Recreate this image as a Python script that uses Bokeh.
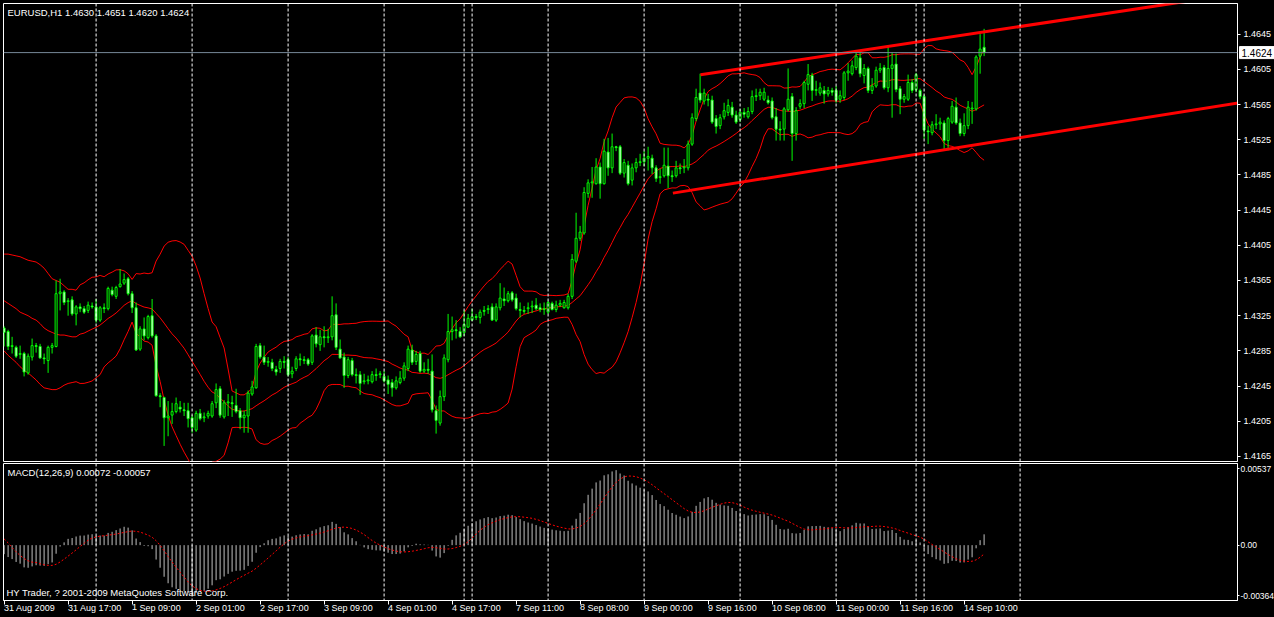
import numpy as np
from bokeh.plotting import figure
from bokeh.models import (Range1d, FixedTicker, Span, Label, ColumnDataSource,
                          PrintfTickFormatter, GlobalInlineStyleSheet)
from bokeh.layouts import column
from bokeh.embed import file_html
from bokeh.resources import INLINE

FONT = "Liberation Sans"
FS = "9px"
FS_TITLE = "9.5px"

# ---------------- data ----------------
symbol_title = "EURUSD,H1  1.4630 1.4651 1.4620 1.4624"
macd_title = "MACD(12,26,9) 0.00072 -0.00057"
copyright_text = "HY Trader, ? 2001-2009 MetaQuotes Software Corp."

open_p = [1.4311,1.4307,1.4290,1.4289,1.4281,1.4282,1.4260,1.4278,1.4291,1.4290,
1.4277,1.4274,1.4289,1.4290,1.4350,1.4352,1.4341,1.4343,1.4327,1.4335,
1.4333,1.4331,1.4336,1.4335,1.4320,1.4334,1.4333,1.4354,1.4347,1.4358,
1.4362,1.4367,1.4350,1.4334,1.4287,1.4310,1.4300,1.4325,1.4302,1.4234,
1.4232,1.4209,1.4212,1.4216,1.4221,1.4218,1.4217,1.4209,1.4195,1.4214,
1.4209,1.4211,1.4211,1.4226,1.4242,1.4210,1.4226,1.4226,1.4223,1.4217,
1.4209,1.4211,1.4236,1.4243,1.4291,1.4278,1.4272,1.4272,1.4264,1.4265,
1.4273,1.4275,1.4259,1.4265,1.4276,1.4275,1.4275,1.4272,1.4303,1.4292,
1.4301,1.4300,1.4301,1.4326,1.4287,1.4278,1.4257,1.4274,1.4258,1.4258,
1.4250,1.4251,1.4250,1.4258,1.4258,1.4256,1.4252,1.4249,1.4243,1.4249,
1.4254,1.4265,1.4286,1.4273,1.4282,1.4262,1.4264,1.4262,1.4217,1.4203,
1.4233,1.4275,1.4307,1.4309,1.4307,1.4306,1.4312,1.4320,1.4324,1.4323,
1.4331,1.4332,1.4335,1.4320,1.4334,1.4344,1.4342,1.4351,1.4345,1.4332,
1.4331,1.4333,1.4335,1.4337,1.4334,1.4332,1.4329,1.4339,1.4332,1.4337,
1.4334,1.4334,1.4347,1.4387,1.4413,1.4419,1.4464,1.4476,1.4475,1.4494,
1.4475,1.4511,1.4493,1.4517,1.4517,1.4487,1.4496,1.4479,1.4493,1.4499,
1.4500,1.4504,1.4504,1.4493,1.4482,1.4484,1.4495,1.4484,1.4484,1.4493,
1.4493,1.4493,1.4520,1.4549,1.4578,1.4569,1.4571,1.4570,1.4549,1.4541,
1.4551,1.4556,1.4562,1.4553,1.4548,1.4556,1.4551,1.4557,1.4574,1.4575,
1.4571,1.4570,1.4569,1.4551,1.4537,1.4537,1.4559,1.4574,1.4532,1.4563,
1.4566,1.4588,1.4598,1.4581,1.4578,1.4581,1.4577,1.4581,1.4581,1.4571,
1.4573,1.4601,1.4600,1.4607,1.4618,1.4598,1.4606,1.4581,1.4586,1.4604,
1.4607,1.4584,1.4606,1.4611,1.4583,1.4571,1.4571,1.4590,1.4582,1.4581,
1.4574,1.4535,1.4533,1.4542,1.4543,1.4544,1.4524,1.4545,1.4562,1.4544,
1.4532,1.4541,1.4560,1.4560,1.4620,1.4630]

high_p = [1.4313,1.4309,1.4301,1.4291,1.4291,1.4284,1.4282,1.4299,1.4294,1.4293,
1.4282,1.4291,1.4294,1.4365,1.4367,1.4354,1.4345,1.4347,1.4337,1.4339,
1.4336,1.4341,1.4340,1.4344,1.4336,1.4339,1.4358,1.4358,1.4359,1.4378,
1.4373,1.4369,1.4353,1.4340,1.4313,1.4323,1.4326,1.4344,1.4304,1.4237,
1.4233,1.4228,1.4226,1.4232,1.4228,1.4226,1.4226,1.4212,1.4217,1.4219,
1.4215,1.4217,1.4228,1.4248,1.4245,1.4229,1.4236,1.4234,1.4242,1.4220,
1.4217,1.4240,1.4251,1.4293,1.4294,1.4291,1.4278,1.4276,1.4268,1.4276,
1.4279,1.4278,1.4267,1.4279,1.4282,1.4279,1.4277,1.4304,1.4312,1.4309,
1.4313,1.4310,1.4347,1.4339,1.4298,1.4283,1.4278,1.4277,1.4265,1.4262,
1.4259,1.4257,1.4262,1.4265,1.4262,1.4262,1.4257,1.4253,1.4256,1.4262,
1.4272,1.4291,1.4292,1.4285,1.4285,1.4272,1.4276,1.4281,1.4223,1.4240,
1.4281,1.4327,1.4324,1.4320,1.4312,1.4331,1.4327,1.4333,1.4327,1.4332,
1.4336,1.4337,1.4339,1.4339,1.4362,1.4357,1.4353,1.4353,1.4350,1.4340,
1.4336,1.4340,1.4342,1.4345,1.4339,1.4340,1.4342,1.4341,1.4342,1.4343,
1.4343,1.4350,1.4395,1.4442,1.4427,1.4471,1.4480,1.4494,1.4504,1.4499,
1.4526,1.4527,1.4532,1.4518,1.4519,1.4503,1.4501,1.4498,1.4504,1.4509,
1.4512,1.4517,1.4508,1.4496,1.4492,1.4516,1.4516,1.4490,1.4501,1.4498,
1.4503,1.4524,1.4555,1.4583,1.4600,1.4583,1.4577,1.4575,1.4553,1.4554,
1.4567,1.4571,1.4568,1.4558,1.4560,1.4561,1.4562,1.4581,1.4583,1.4583,
1.4584,1.4575,1.4573,1.4561,1.4546,1.4562,1.4606,1.4578,1.4562,1.4571,
1.4592,1.4611,1.4601,1.4592,1.4590,1.4586,1.4585,1.4584,1.4586,1.4581,
1.4603,1.4612,1.4615,1.4624,1.4626,1.4611,1.4608,1.4595,1.4608,1.4612,
1.4610,1.4632,1.4624,1.4623,1.4586,1.4577,1.4599,1.4594,1.4601,1.4583,
1.4576,1.4541,1.4546,1.4554,1.4550,1.4547,1.4551,1.4569,1.4573,1.4549,
1.4555,1.4569,1.4568,1.4621,1.4645,1.4651]

low_p = [1.4290,1.4286,1.4282,1.4277,1.4276,1.4256,1.4258,1.4274,1.4283,1.4276,
1.4270,1.4260,1.4282,1.4289,1.4331,1.4337,1.4325,1.4325,1.4314,1.4329,
1.4327,1.4328,1.4333,1.4317,1.4318,1.4328,1.4331,1.4347,1.4344,1.4357,
1.4360,1.4348,1.4328,1.4285,1.4285,1.4297,1.4298,1.4300,1.4233,1.4221,
1.4177,1.4188,1.4202,1.4214,1.4215,1.4211,1.4198,1.4192,1.4193,1.4206,
1.4204,1.4208,1.4209,1.4220,1.4209,1.4208,1.4211,1.4210,1.4214,1.4196,
1.4192,1.4192,1.4234,1.4242,1.4276,1.4269,1.4267,1.4262,1.4257,1.4260,
1.4265,1.4256,1.4254,1.4262,1.4268,1.4270,1.4268,1.4269,1.4289,1.4285,
1.4289,1.4294,1.4297,1.4286,1.4276,1.4243,1.4254,1.4256,1.4248,1.4235,
1.4247,1.4247,1.4248,1.4251,1.4254,1.4249,1.4236,1.4233,1.4241,1.4247,
1.4251,1.4262,1.4269,1.4269,1.4260,1.4260,1.4259,1.4215,1.4191,1.4200,
1.4228,1.4272,1.4297,1.4299,1.4300,1.4302,1.4311,1.4319,1.4320,1.4316,
1.4325,1.4327,1.4319,1.4318,1.4331,1.4336,1.4340,1.4341,1.4331,1.4323,
1.4327,1.4327,1.4328,1.4331,1.4329,1.4326,1.4327,1.4331,1.4329,1.4335,
1.4333,1.4332,1.4344,1.4385,1.4410,1.4417,1.4459,1.4459,1.4474,1.4458,
1.4474,1.4484,1.4487,1.4512,1.4485,1.4482,1.4473,1.4473,1.4488,1.4495,
1.4495,1.4490,1.4486,1.4477,1.4475,1.4482,1.4470,1.4477,1.4482,1.4486,
1.4487,1.4490,1.4518,1.4546,1.4567,1.4565,1.4563,1.4543,1.4532,1.4537,
1.4548,1.4552,1.4550,1.4543,1.4545,1.4550,1.4549,1.4554,1.4569,1.4570,
1.4569,1.4565,1.4548,1.4524,1.4524,1.4524,1.4557,1.4501,1.4524,1.4560,
1.4561,1.4581,1.4569,1.4575,1.4575,1.4566,1.4574,1.4575,1.4567,1.4567,
1.4570,1.4592,1.4598,1.4604,1.4596,1.4589,1.4578,1.4577,1.4584,1.4601,
1.4582,1.4579,1.4550,1.4579,1.4554,1.4567,1.4569,1.4578,1.4579,1.4571,
1.4526,1.4520,1.4530,1.4537,1.4536,1.4513,1.4513,1.4543,1.4542,1.4529,
1.4529,1.4537,1.4543,1.4558,1.4600,1.4620]

close_p = [1.4306,1.4290,1.4291,1.4279,1.4282,1.4261,1.4279,1.4291,1.4290,1.4277,
1.4276,1.4289,1.4291,1.4350,1.4352,1.4340,1.4342,1.4327,1.4335,1.4333,
1.4329,1.4337,1.4335,1.4320,1.4334,1.4333,1.4356,1.4349,1.4357,1.4361,
1.4366,1.4350,1.4334,1.4286,1.4310,1.4302,1.4324,1.4302,1.4234,1.4233,
1.4209,1.4211,1.4216,1.4225,1.4219,1.4217,1.4208,1.4198,1.4214,1.4208,
1.4210,1.4214,1.4225,1.4241,1.4212,1.4226,1.4227,1.4225,1.4216,1.4209,
1.4212,1.4237,1.4244,1.4290,1.4278,1.4272,1.4273,1.4265,1.4261,1.4273,
1.4272,1.4258,1.4262,1.4276,1.4275,1.4274,1.4270,1.4302,1.4293,1.4301,
1.4300,1.4301,1.4325,1.4289,1.4277,1.4257,1.4275,1.4258,1.4257,1.4248,
1.4251,1.4252,1.4258,1.4257,1.4259,1.4251,1.4247,1.4243,1.4251,1.4254,
1.4268,1.4287,1.4272,1.4281,1.4262,1.4264,1.4263,1.4218,1.4206,1.4233,
1.4277,1.4307,1.4309,1.4308,1.4301,1.4315,1.4322,1.4324,1.4323,1.4329,
1.4330,1.4333,1.4320,1.4335,1.4345,1.4342,1.4350,1.4343,1.4333,1.4331,
1.4330,1.4334,1.4336,1.4333,1.4332,1.4333,1.4340,1.4332,1.4337,1.4339,
1.4340,1.4347,1.4389,1.4413,1.4420,1.4465,1.4476,1.4477,1.4494,1.4475,
1.4512,1.4493,1.4517,1.4516,1.4487,1.4499,1.4475,1.4493,1.4499,1.4500,
1.4504,1.4506,1.4493,1.4481,1.4483,1.4496,1.4484,1.4483,1.4493,1.4492,
1.4494,1.4520,1.4550,1.4573,1.4570,1.4578,1.4570,1.4545,1.4540,1.4550,
1.4558,1.4564,1.4553,1.4545,1.4556,1.4554,1.4557,1.4574,1.4575,1.4579,
1.4579,1.4567,1.4550,1.4537,1.4536,1.4560,1.4571,1.4532,1.4558,1.4566,
1.4590,1.4599,1.4581,1.4582,1.4584,1.4577,1.4581,1.4579,1.4570,1.4575,
1.4601,1.4603,1.4609,1.4620,1.4600,1.4606,1.4581,1.4586,1.4604,1.4606,
1.4584,1.4606,1.4610,1.4582,1.4571,1.4574,1.4590,1.4581,1.4599,1.4574,
1.4536,1.4534,1.4542,1.4543,1.4545,1.4524,1.4549,1.4563,1.4544,1.4532,
1.4541,1.4562,1.4561,1.4619,1.4628,1.4624]

# Bollinger(20,2) values for the first bars (history before the window)
bb_upper_start = [1.4395,1.4395,1.4394,1.4393,1.4392,1.4390,1.4388,1.4387,1.4386,1.4383,
                  1.4379,1.4373,1.4367,1.4365,1.4363,1.4359,1.4355,1.4355,1.4354]
bb_mid_start = [1.4342,1.4339,1.4336,1.4333,1.4329,1.4327,1.4325,1.4322,1.4320,1.4316,
                1.4311,1.4308,1.4306,1.4304,1.4303,1.4303,1.4302,1.4301,1.4301]
bb_lower_start = [1.4285,1.4280,1.4276,1.4272,1.4267,1.4263,1.4260,1.4256,1.4252,1.4247,
                  1.4243,1.4242,1.4241,1.4241,1.4243,1.4246,1.4248,1.4249,1.4250]
# MACD state at the left edge
ema12_seed = 1.4322
ema26_seed = 1.4327
signal_start = [0.00041, 0.00015, -0.00016, -0.00044, -0.00068, -0.00088, -0.00103, -0.00112]

separator_bars = [23, 47, 71, 95, 115, 117, 136, 160, 184, 208, 228, 230, 254]
tick_bars = [0, 16, 32, 48, 64, 80, 96, 112, 128, 144, 160, 176, 192, 208, 224, 240]
tick_labels = ["31 Aug 2009", "31 Aug 17:00", "1 Sep 09:00", "2 Sep 01:00", "2 Sep 17:00",
               "3 Sep 09:00", "4 Sep 01:00", "4 Sep 17:00", "7 Sep 11:00", "8 Sep 08:00",
               "9 Sep 00:00", "9 Sep 16:00", "10 Sep 08:00", "11 Sep 00:00", "11 Sep 16:00",
               "14 Sep 10:00"]
price_ticks = [1.4165, 1.4205, 1.4245, 1.4285, 1.4325, 1.4365, 1.4405, 1.4445,
               1.4485, 1.4525, 1.4565, 1.4605, 1.4645]
channel_upper_bar = [174.1, 320.0]
channel_upper_price = [1.45988, 1.46990]
channel_lower_bar = [167.2, 320.0]
channel_lower_price = [1.44643, 1.45752]
last_price = 1.4624
last_price_text = "1.4624"
macd_top = 0.00537
macd_bottom = -0.00364
macd_top_text = "0.00537"
macd_bottom_text = "-0.00364"
price_min, price_max = 1.41593, 1.46798
bar_min, bar_max = -0.15, 308.35

# ---------------- layout sizes ----------------
FRAME_W = 1234
MAIN_H = 458
MACD_H = 137

# ---------------- indicators ----------------
o = np.array(open_p); h = np.array(high_p); l = np.array(low_p); c = np.array(close_p)
n = len(c)
x = np.arange(n)

k0 = len(bb_mid_start)
bb_mid = np.zeros(n); bb_up = np.zeros(n); bb_lo = np.zeros(n)
bb_mid[:k0] = bb_mid_start; bb_up[:k0] = bb_upper_start; bb_lo[:k0] = bb_lower_start
for i in range(k0, n):
    w = c[i - 19:i + 1]
    m = w.mean(); s = w.std()
    bb_mid[i] = m; bb_up[i] = m + 2 * s; bb_lo[i] = m - 2 * s

a12, a26 = 2 / 13, 2 / 27
e12, e26 = ema12_seed, ema26_seed
macd = np.zeros(n)
for i in range(n):
    e12 += a12 * (c[i] - e12)
    e26 += a26 * (c[i] - e26)
    macd[i] = e12 - e26
signal = np.zeros(n)
ks = len(signal_start)
signal[:ks] = signal_start
for i in range(ks, n):
    signal[i] = macd[max(0, i - 8):i + 1].mean()

src = ColumnDataSource(dict(
    x=x, h=h, l=l,
    top=np.maximum(o, c), bottom=np.minimum(o, c),
    fill=np.where(c > o, "black", "white"),
))

# ---------------- figures ----------------
xr = Range1d(bar_min, bar_max)
common = dict(output_backend="svg", toolbar_location=None, y_axis_location="right",
              background_fill_color="black", border_fill_color="black",
              outline_line_color="white", min_border_left=3, min_border_right=37,
              frame_width=FRAME_W)

p1 = figure(frame_height=MAIN_H, x_range=xr, y_range=Range1d(price_min, price_max),
            x_axis_location=None, min_border_top=3, min_border_bottom=1, **common)
p2 = figure(frame_height=MACD_H, x_range=xr, y_range=Range1d(macd_bottom, macd_top),
            min_border_top=1, min_border_bottom=0, **common)


def style_axis(ax):
    ax.axis_line_color = "white"
    ax.major_tick_line_color = "white"
    ax.minor_tick_line_color = None
    ax.major_tick_in = 0
    ax.major_tick_out = 3
    ax.major_label_text_color = "white"
    ax.major_label_text_font = FONT
    ax.major_label_text_font_size = FS
    ax.major_label_standoff = 3


for p in (p1, p2):
    p.grid.grid_line_color = None
    for ax in p.axis:
        style_axis(ax)
    for s in separator_bars:
        p.add_layout(Span(location=s, dimension="height", line_color="white",
                          line_dash="3 2", line_width=1))

ya = p1.yaxis[0]
ya.ticker = FixedTicker(ticks=price_ticks)
ya.formatter = PrintfTickFormatter(format="%.4f")

# bid line
p1.add_layout(Span(location=last_price, dimension="width", line_color="#778899", line_width=1))

# Bollinger bands
p1.line(x, bb_up, line_color="red", line_width=1)
p1.line(x, bb_mid, line_color="red", line_width=1)
p1.line(x, bb_lo, line_color="red", line_width=1)

# candles
p1.segment(x0="x", y0="l", x1="x", y1="h", source=src, line_color="#00FF00", line_width=1)
p1.vbar(x="x", width=0.5, top="top", bottom="bottom", source=src,
        fill_color="fill", line_color="#00FF00", line_width=1)

# channel lines
p1.line(channel_upper_bar, channel_upper_price, line_color="red", line_width=3)
p1.line(channel_lower_bar, channel_lower_price, line_color="red", line_width=3)

p1.add_layout(Label(x=bar_min, y=price_max, x_offset=4, y_offset=-3, text=symbol_title,
                    text_baseline="top", text_color="white", text_font=FONT,
                    text_font_size=FS_TITLE))

# price box on the price scale (placed in the side panel so it is not clipped to the frame)
box = Label(x=bar_max, y=last_price, x_offset=2, text=last_price_text,
            text_baseline="middle", text_align="left", text_color="black",
            background_fill_color="white", border_line_color="white",
            text_font=FONT, text_font_size="10px")
if "padding" in box.properties():
    box.padding = 2
p1.add_layout(box, "right")

# MACD panel
p2.segment(x0=x, y0=np.zeros(n), x1=x, y1=macd, line_color="#C0C0C0", line_width=1)
p2.line(x, signal, line_color="red", line_dash="2 2", line_width=1)

ya2 = p2.yaxis[0]
shift = 5 * (macd_top - macd_bottom) / MACD_H
macd_ticks = [macd_bottom + shift, 0.0, macd_top - shift]
ya2.ticker = FixedTicker(ticks=macd_ticks)
ya2.major_label_overrides = {macd_ticks[0]: macd_bottom_text, 0.0: "0.00",
                             macd_ticks[2]: macd_top_text}
ya2.major_tick_out = 2
ya2.major_label_standoff = 1
ya2.major_label_text_font_size = "8.5px"

# x axis: labels start just right of their tick (tiny negative angle -> left aligned)
xa = p2.xaxis[0]
xa.ticker = FixedTicker(ticks=tick_bars)
xa.major_label_overrides = {b: t for b, t in zip(tick_bars, tick_labels)}
xa.major_tick_out = 4
xa.major_label_orientation = -0.0001
xa.major_label_standoff = 3

p2.add_layout(Label(x=bar_min, y=macd_top, x_offset=4, y_offset=-3, text=macd_title,
                    text_baseline="top", text_color="white", text_font=FONT,
                    text_font_size=FS_TITLE))
p2.add_layout(Label(x=bar_min, y=macd_bottom, x_offset=3, y_offset=3, text=copyright_text,
                    text_baseline="bottom", text_color="white", text_font=FONT,
                    text_font_size=FS_TITLE))

page_css = GlobalInlineStyleSheet(
    css="html, body { margin: 0; padding: 0; background-color: #000000; overflow: hidden; }")
layout = column(p1, p2, spacing=0, stylesheets=[page_css])

open("out.html", "w").write(file_html(layout, INLINE))
